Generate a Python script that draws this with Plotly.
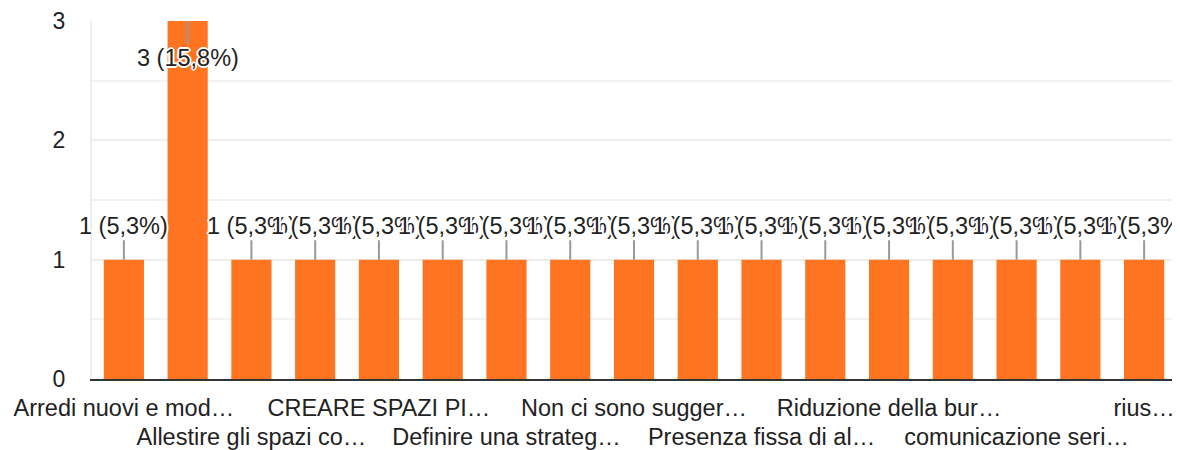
import plotly.graph_objects as go

# ── data ────────────────────────────────────────────────────────────────
# one bar per response (17 responses, only every other label is printed)
response_idx = list(range(17))
counts = [1, 3, 1, 1, 1, 1, 1, 1, 1, 1, 1, 1, 1, 1, 1, 1, 1]

# tick labels as printed by the form summary (two staggered rows)
row1_idx = [0, 4, 8, 12, 16]
row1_text = ["Arredi nuovi e mod…", "CREARE SPAZI PI…", "Non ci sono sugger…",
             "Riduzione della bur…", "rius…"]
row2_idx = [2, 6, 10, 14]
row2_text = ["Allestire gli spazi co…", "Definire una strateg…",
             "Presenza fissa di al…", "comunicazione seri…"]

BAR_COLOR = "#ff7420"
TEXT_COLOR = "#222222"
FONT = "Arial, Liberation Sans, sans-serif"
# white outline round the value labels, like the form summary chart
HALO = ("1px 1px 0 #fff, -1px -1px 0 #fff, 1px -1px 0 #fff, -1px 1px 0 #fff, "
        "0 2px 0 #fff, 0 -2px 0 #fff, 2px 0 0 #fff, -2px 0 0 #fff")

total = sum(counts)
y_max = 3

fig = go.Figure()

fig.add_trace(
    go.Bar(
        x=response_idx,
        y=counts,
        marker=dict(color=BAR_COLOR, line=dict(width=0)),
        hoverinfo="skip",
        showlegend=False,
    )
)

# invisible copy on the second x axis so the lower row of labels gets drawn
fig.add_trace(
    go.Scatter(
        x=response_idx,
        y=counts,
        xaxis="x2",
        mode="markers",
        marker=dict(opacity=0),
        hoverinfo="skip",
        showlegend=False,
    )
)

# value labels with leader lines ("n (p%)"), inside the bar when it hits the top
for i, v in zip(response_idx, counts):
    pct = f"{v / total * 100:.1f}".replace(".", ",")
    inside = v >= y_max - 0.5
    fig.add_annotation(
        x=i, y=v, xref="x", yref="y",
        text=f"{v} ({pct}%)",
        showarrow=True, arrowhead=0, arrowwidth=2, arrowcolor="#999999",
        ax=0, ay=37 if inside else -34, standoff=0,
        font=dict(family=FONT, size=23.5, color=TEXT_COLOR, shadow=HALO),
    )

# the page body adds an 8px margin, so the figure is 16px smaller than the window
fig.update_layout(
    width=1172, height=442,
    margin=dict(l=84, r=4, t=13, b=71, autoexpand=False),
    paper_bgcolor="white", plot_bgcolor="white",
    bargap=0.37,
    hovermode=False,
    font=dict(family=FONT, size=23, color=TEXT_COLOR),
    xaxis=dict(
        range=[-0.5, 16.5],
        tickmode="array", tickvals=row1_idx, ticktext=row1_text,
        showgrid=False, zeroline=False,
        showline=True, linecolor="#333333", linewidth=2,
        ticks="", ticklabelstandoff=7,
        tickfont=dict(size=23.5, color=TEXT_COLOR),
        automargin=False, fixedrange=True,
    ),
    xaxis2=dict(
        range=[-0.5, 16.5],
        overlaying="x", side="bottom", anchor="y",
        tickmode="array", tickvals=row2_idx, ticktext=row2_text,
        showgrid=False, zeroline=False, showline=False,
        ticks="", ticklabelstandoff=41,
        tickfont=dict(size=23.5, color=TEXT_COLOR),
        automargin=False, fixedrange=True,
    ),
    yaxis=dict(
        range=[0, y_max], dtick=1,
        showgrid=True, gridcolor="#eeeeee", gridwidth=2,
        minor=dict(dtick=0.5, showgrid=True, gridcolor="#f2f2f2", gridwidth=2),
        zeroline=False,
        showline=True, linecolor="#eeeeee", linewidth=2,
        ticks="", ticklabelstandoff=20,
        tickfont=dict(size=23, color=TEXT_COLOR),
        automargin=False, fixedrange=True,
    ),
)

fig.write_html("out.html", config=dict(displayModeBar=False))
